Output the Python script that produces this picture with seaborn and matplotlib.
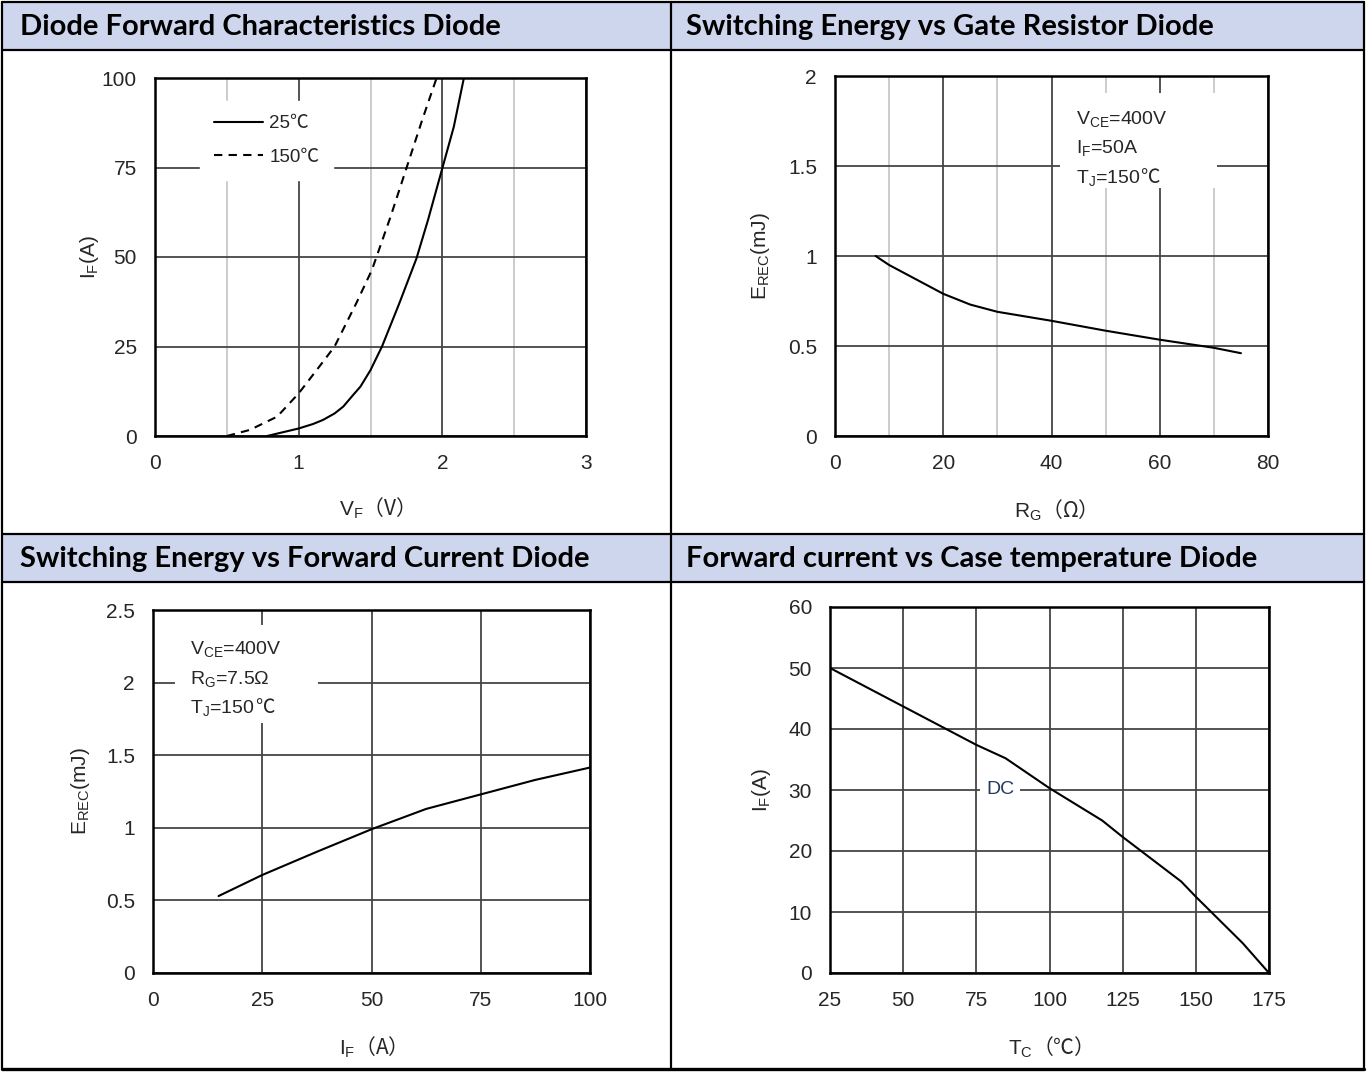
import matplotlib
matplotlib.use("Agg")
import matplotlib.pyplot as plt
import pandas as pd
import seaborn as sns
from matplotlib.patches import Rectangle
from matplotlib.lines import Line2D
from matplotlib.ticker import FuncFormatter

# ---------------- data ----------------
# Diode forward characteristics (VF in V, IF in A)
vf_25c = [0.78, 1.00, 1.10, 1.17, 1.25, 1.31, 1.38, 1.43, 1.50, 1.58, 1.70, 1.82, 1.90, 2.00, 2.08, 2.15]
if_25c = [0.0, 2.1, 3.35, 4.5, 6.3, 8.2, 11.5, 13.8, 18.4, 25.0, 37.0, 49.6, 60.3, 74.8, 86.4, 100.0]
vf_150c = [0.50, 0.66, 0.85, 1.00, 1.125, 1.25, 1.40, 1.51, 1.64, 1.75, 1.86, 1.96]
if_150c = [0.0, 1.7, 5.4, 11.9, 18.4, 25.0, 37.0, 46.4, 61.3, 74.8, 88.3, 100.0]
temp_labels = ["25℃", "150℃"]

# Recovery energy vs gate resistance (RG in ohm, EREC in mJ)
rg_ohm = [7.5, 10, 15, 20, 25, 30, 40, 50, 60, 70, 75]
erec_vs_rg = [1.00, 0.95, 0.87, 0.79, 0.73, 0.69, 0.64, 0.585, 0.535, 0.49, 0.46]

# Recovery energy vs forward current (IF in A, EREC in mJ)
if_amp = [15, 25, 37.5, 50, 62.5, 75, 87.5, 100]
erec_vs_if = [0.53, 0.675, 0.835, 0.99, 1.13, 1.23, 1.33, 1.415]

# DC forward current derating vs case temperature
tc_deg = [25, 50, 75, 85, 100, 118, 125, 145, 150, 166, 175]
if_dc = [50.0, 43.7, 37.4, 35.2, 30.3, 25.0, 22.3, 15.0, 12.5, 4.9, 0.0]

titles = [
    "Diode Forward Characteristics Diode",
    "Switching Energy vs Gate Resistor Diode",
    "Switching Energy vs Forward Current Diode",
    "Forward current vs Case temperature Diode",
]

# ---------------- style ----------------
sns.set_style("white")
plt.rcParams["font.family"] = ["Liberation Sans", "Noto Sans CJK SC"]
plt.rcParams["mathtext.fontset"] = "custom"
plt.rcParams["mathtext.rm"] = "Liberation Sans"
plt.rcParams["mathtext.it"] = "Liberation Sans:italic"
plt.rcParams["mathtext.bf"] = "Liberation Sans:bold"

W, H, DPI = 1367, 1079, 100
TEXT = "#262626"
GRID_DARK = "#454545"
GRID_LIGHT = "#c8c8c8"
HEADER_FILL = "#ced6ee"
TICK_SIZE = 15
NOTE_SIZE = 14

fig = plt.figure(figsize=(W / DPI, H / DPI), dpi=DPI)
fig.patch.set_facecolor("white")


def fx(px):
    return px / W


def fy(py):
    return 1 - py / H


def axes_px(left, top, right, bottom):
    return fig.add_axes([fx(left), fy(bottom), (right - left) / W, (bottom - top) / H])


# ---------------- table frame and headers ----------------
for top in (2, 534):
    fig.add_artist(Rectangle((fx(2), fy(top + 48)), fx(1362), 48 / H,
                             transform=fig.transFigure, facecolor=HEADER_FILL,
                             edgecolor="none", zorder=0))


def hline(y, lw=1.6):
    fig.add_artist(Line2D([fx(2), fx(1364)], [fy(y), fy(y)], transform=fig.transFigure,
                          color="black", lw=lw, zorder=10))


def vline(x, lw=1.6):
    fig.add_artist(Line2D([fx(x), fx(x)], [fy(2), fy(1069)], transform=fig.transFigure,
                          color="black", lw=lw, zorder=10))


for y in (2, 50, 534, 582):
    hline(y)
hline(1069, lw=2.4)
for x in (2, 671, 1364):
    vline(x)

header_pos = [(20, 27), (686, 27), (20, 559), (686, 559)]
for (hx, hy), t in zip(header_pos, titles):
    fig.text(fx(hx), fy(hy), t, family="Lato", weight="bold", fontsize=21,
             color="black", ha="left", va="center")

# ---------------- axes ----------------
fmt = FuncFormatter(lambda v, _: f"{v:g}")


def style_axes(ax, xlim, ylim, xmajor, ymajor, xminor=None):
    ax.set_xlim(*xlim)
    ax.set_ylim(*ylim)
    ax.set_xticks(xmajor)
    ax.set_yticks(ymajor)
    if xminor is not None:
        ax.set_xticks(xminor, minor=True)
        ax.grid(True, which="minor", axis="x", color=GRID_LIGHT, lw=1.3)
    ax.set_axisbelow(True)
    ax.grid(True, which="major", color=GRID_DARK, lw=1.3)
    ax.xaxis.set_major_formatter(fmt)
    ax.yaxis.set_major_formatter(fmt)
    ax.tick_params(which="both", length=0, labelsize=TICK_SIZE, labelcolor=TEXT)
    ax.tick_params(axis="y", pad=13)
    ax.tick_params(axis="x", pad=13)
    for lab in ax.get_xticklabels() + ax.get_yticklabels():
        lab.set_family("Liberation Sans")
    for sp in ax.spines.values():
        sp.set_visible(True)
        sp.set_color("black")
        sp.set_linewidth(1.8)


def set_labels(ax, xlabel, ylabel, xpos, ypos):
    ax.set_xlabel(xlabel, fontsize=TICK_SIZE, color=TEXT, family="Noto Sans CJK SC", va="center")
    ax.set_ylabel(ylabel, fontsize=TICK_SIZE, color=TEXT, family="Liberation Sans", va="center")
    ax.xaxis.set_label_coords(*xpos)
    ax.yaxis.set_label_coords(*ypos)


def note_box(ax, x0, y0, x1, y1):
    ax.add_patch(Rectangle((x0, y0), x1 - x0, y1 - y0, transform=ax.transAxes,
                           facecolor="white", edgecolor="none", zorder=1))


def note_line(ax, x, y, math_part, tail=None):
    t = ax.text(x, y, math_part, fontsize=NOTE_SIZE, color=TEXT, family="Liberation Sans",
                ha="left", va="center", zorder=4)
    if tail:
        ax.annotate(tail, xy=(1, 0.55), xycoords=t, fontsize=NOTE_SIZE, color=TEXT,
                    family="Noto Sans CJK SC", ha="left", va="center", zorder=4)


# Panel 1: forward characteristics
ax1 = axes_px(155, 78, 586, 436)
fwd = pd.DataFrame({
    "VF": vf_25c + vf_150c,
    "IF": if_25c + if_150c,
    "Tj": [temp_labels[0]] * len(vf_25c) + [temp_labels[1]] * len(vf_150c),
})
sns.lineplot(data=fwd, x="VF", y="IF", style="Tj", style_order=temp_labels,
             dashes={temp_labels[0]: "", temp_labels[1]: (4, 3)}, color="black",
             lw=1.5, estimator=None, sort=False, ax=ax1)
style_axes(ax1, (0, 3), (0, 100), [0, 1, 2, 3], [0, 25, 50, 75, 100],
           xminor=[0.5, 1.5, 2.5])
old = ax1.get_legend()
handles = old.legend_handles
labels = [t.get_text() for t in old.get_texts()]
old.remove()
leg = ax1.legend(handles, labels, loc="upper left", bbox_to_anchor=(0.104, 0.935),
                 borderaxespad=0, borderpad=0.75, frameon=True, fancybox=False,
                 facecolor="white", edgecolor="white", framealpha=1,
                 handlelength=2.6, handletextpad=0.35, labelspacing=0.85,
                 prop={"family": ["Liberation Sans", "Noto Sans CJK SC"], "size": 13.5})
for txt in leg.get_texts():
    txt.set_color(TEXT)
set_labels(ax1, r"$\mathrm{V}_\mathrm{F}$（V）", r"$\mathrm{I}_\mathrm{F}$(A)",
           (0.503, -0.201), (-0.151, 0.5))

# Panel 2: EREC vs RG
ax2 = axes_px(835, 76, 1268, 436)
sns.lineplot(x=rg_ohm, y=erec_vs_rg, color="black", lw=1.5, estimator=None, ax=ax2)
style_axes(ax2, (0, 80), (0, 2), [0, 20, 40, 60, 80], [0, 0.5, 1, 1.5, 2],
           xminor=[10, 30, 50, 70])
note_box(ax2, 0.520, 0.689, 0.882, 0.953)
note_line(ax2, 44.5, 1.761, r"$\mathrm{V}_\mathrm{CE}$=400V")
note_line(ax2, 44.5, 1.600, r"$\mathrm{I}_\mathrm{F}$=50A")
note_line(ax2, 44.5, 1.433, r"$\mathrm{T}_\mathrm{J}$=150", "℃")
set_labels(ax2, r"$\mathrm{R}_\mathrm{G}$（Ω）", r"$\mathrm{E}_\mathrm{REC}$(mJ)",
           (0.497, -0.206), (-0.173, 0.5))

# Panel 3: EREC vs IF
ax3 = axes_px(153, 610, 590, 973)
sns.lineplot(x=if_amp, y=erec_vs_if, color="black", lw=1.5, estimator=None, ax=ax3)
style_axes(ax3, (0, 100), (0, 2.5), [0, 25, 50, 75, 100], [0, 0.5, 1, 1.5, 2, 2.5])
note_box(ax3, 0.050, 0.689, 0.378, 0.959)
note_line(ax3, 8.47, 2.229, r"$\mathrm{V}_\mathrm{CE}$=400V")
note_line(ax3, 8.47, 2.023, r"$\mathrm{R}_\mathrm{G}$=7.5Ω")
note_line(ax3, 8.47, 1.823, r"$\mathrm{T}_\mathrm{J}$=150", "℃")
set_labels(ax3, r"$\mathrm{I}_\mathrm{F}$（A）", r"$\mathrm{E}_\mathrm{REC}$(mJ)",
           (0.492, -0.204), (-0.167, 0.5))

# Panel 4: IF vs TC
ax4 = axes_px(830, 607, 1269, 973)
sns.lineplot(x=tc_deg, y=if_dc, color="black", lw=1.5, estimator=None, ax=ax4)
style_axes(ax4, (25, 175), (0, 60), [25, 50, 75, 100, 125, 150, 175],
           [0, 10, 20, 30, 40, 50, 60])
ax4.text(83.1, 30, "DC", fontsize=NOTE_SIZE, color="#23395d", ha="center", va="center",
         family="Liberation Sans", zorder=3,
         bbox=dict(facecolor="white", edgecolor="none", pad=4))
set_labels(ax4, r"$\mathrm{T}_\mathrm{C}$（℃）", r"$\mathrm{I}_\mathrm{F}$(A)",
           (0.490, -0.202), (-0.155, 0.5))

fig.savefig("out.png", dpi=DPI, facecolor="white")
